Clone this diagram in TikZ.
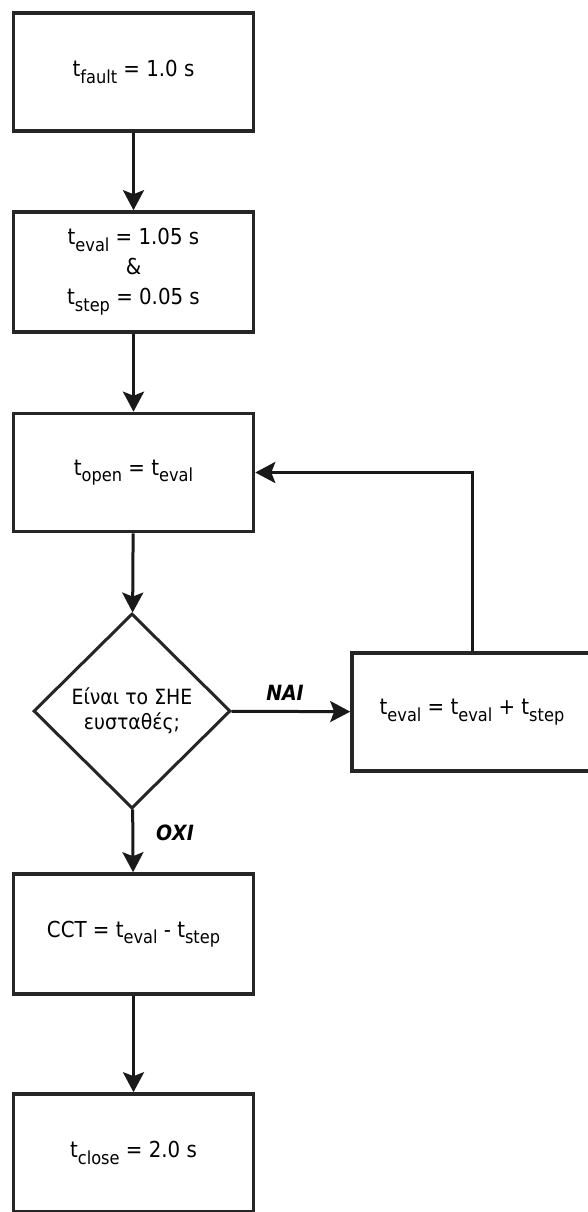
\documentclass[tikz,border=0pt]{standalone}
\usepackage{fontspec}
\setmainfont{DejaVu Sans Condensed}
\usetikzlibrary{shapes.geometric,arrows.meta}

% subscript in text size
\newcommand\tsb[1]{\raisebox{-0.3em}{\fontsize{18}{18}\selectfont #1}}

\begin{document}
\begin{tikzpicture}[x=1pt,y=-1pt,
  every node/.style={font=\fontsize{22}{30}\selectfont, text=black},
  stepbox/.style={draw=black!85, line width=3.6pt, fill=white,
    rectangle, minimum width=240pt, minimum height=118pt, inner sep=2pt, align=center},
  decision/.style={draw=black!85, line width=3pt, fill=white,
    diamond, minimum width=197pt, minimum height=195pt, inner sep=0pt, align=center,
    font=\fontsize{21}{25}\selectfont},
  flow/.style={draw=black!90, line width=3pt,
    -{Stealth[length=20pt,width=21pt,inset=4pt]}},
  answer/.style={font=\fontsize{21}{24}\bfseries\itshape\selectfont}
]
\useasboundingbox (0,0) rectangle (587,1212);

\node[stepbox] (fault) at (133.5,72)  {t\tsb{fault} = 1.0 s};
\node[stepbox, minimum height=120pt] (init) at (133.5,272) {t\tsb{eval} = 1.05 s\\ \&\\ t\tsb{step} = 0.05 s};
\node[stepbox] (open) at (133.5,472.5) {t\tsb{open} = t\tsb{eval}};
\node[decision] (stable) at (132,711) {Είναι το ΣΗΕ\\ ευσταθές;};
\node[stepbox] (incr) at (472,712) {t\tsb{eval} = t\tsb{eval} + t\tsb{step}};
\node[stepbox, minimum height=120pt] (cct) at (133.5,934) {CCT = t\tsb{eval} - t\tsb{step}};
\node[stepbox] (close) at (133.5,1153) {t\tsb{close} = 2.0 s};

\draw[flow] (fault) -- (init);
\draw[flow] (init) -- (open);
\draw[flow] (open) -- (stable);
\draw[flow] (stable) -- (incr);
\draw[flow] (incr.north) |- (open.east);
\draw[flow] (stable) -- (cct);
\draw[flow] (cct) -- (close);

\node[answer] (yes) at (285,693) {ΝΑΙ};
\node[answer] (no) at (175,833) {ΟΧΙ};
\end{tikzpicture}
\end{document}
